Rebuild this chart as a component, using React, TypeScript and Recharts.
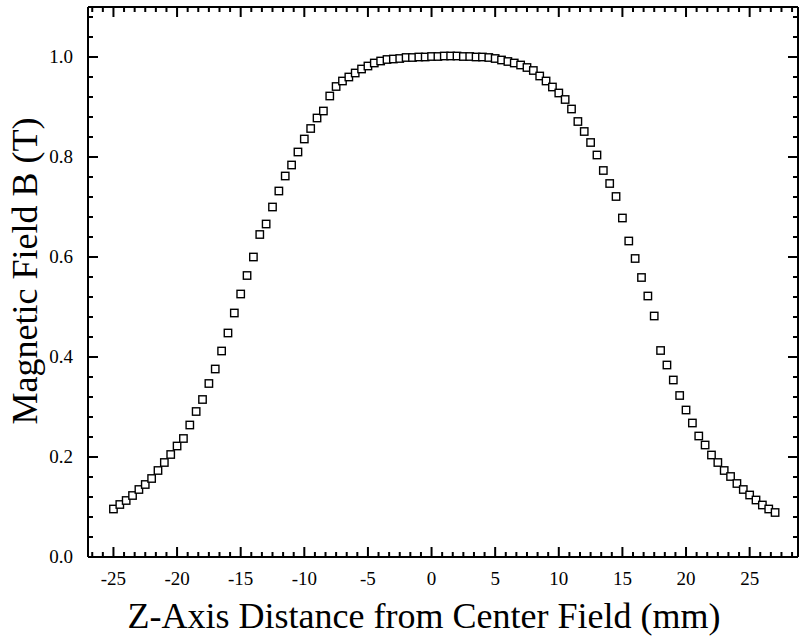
import { ScatterChart, Scatter, XAxis, YAxis } from "recharts";

// axial position (mm) and measured field (T)
const zMm = [
  -25, -24.5, -24, -23.5, -23, -22.5, -22, -21.5, -21, -20.5,
  -20, -19.5, -19, -18.5, -18, -17.5, -17, -16.5, -16, -15.5,
  -15, -14.5, -14, -13.5, -13, -12.5, -12, -11.5, -11, -10.5,
  -10, -9.5, -9, -8.5, -8, -7.5, -7, -6.5, -6, -5.5,
  -5, -4.5, -4, -3.5, -3, -2.5, -2, -1.5, -1, -0.5,
  0, 0.5, 1, 1.5, 2, 2.5, 3, 3.5, 4, 4.5,
  5, 5.5, 6, 6.5, 7, 7.5, 8, 8.5, 9, 9.5,
  10, 10.5, 11, 11.5, 12, 12.5, 13, 13.5, 14, 14.5,
  15, 15.5, 16, 16.5, 17, 17.5, 18, 18.5, 19, 19.5,
  20, 20.5, 21, 21.5, 22, 22.5, 23, 23.5, 24, 24.5,
  25, 25.5, 26, 26.5, 27,
];

const fieldT = [
  0.096, 0.105, 0.113, 0.123, 0.135, 0.145, 0.157, 0.173, 0.189, 0.205,
  0.222, 0.237, 0.264, 0.291, 0.315, 0.347, 0.376, 0.412, 0.448, 0.488,
  0.526, 0.563, 0.6, 0.645, 0.666, 0.7, 0.732, 0.762, 0.784, 0.81,
  0.836, 0.857, 0.878, 0.892, 0.922, 0.941, 0.952, 0.96, 0.968, 0.976,
  0.982, 0.988, 0.992, 0.995, 0.996, 0.997, 0.999, 0.999, 1.0, 1.0,
  1.001, 1.001, 1.002, 1.002, 1.002, 1.001, 1.001, 1.0, 1.0, 0.999,
  0.997, 0.994, 0.991, 0.988, 0.984, 0.979, 0.973, 0.962, 0.952, 0.94,
  0.928, 0.915, 0.896, 0.871, 0.851, 0.829, 0.804, 0.773, 0.747, 0.721,
  0.678, 0.632, 0.597, 0.559, 0.522, 0.482, 0.413, 0.384, 0.354, 0.323,
  0.294, 0.268, 0.242, 0.224, 0.204, 0.189, 0.173, 0.161, 0.147, 0.135,
  0.124, 0.114, 0.104, 0.096, 0.089,
];

const xMajorTicks = [-25, -20, -15, -10, -5, 0, 5, 10, 15, 20, 25];
const yMajorTicks = [0, 0.2, 0.4, 0.6, 0.8, 1.0];

const xTitle = "Z-Axis Distance from Center Field (mm)";
const yTitle = "Magnetic Field B (T)";

const X_DOMAIN: [number, number] = [-27, 28.8];
const Y_DOMAIN: [number, number] = [0, 1.1];
const FONT = "Liberation Serif";

// origin style: 5 minor ticks between x majors, 4 between y majors
function withMinors(majors: number[], step: number, count: number, domain: [number, number]) {
  const out: number[] = [];
  for (let m = majors[0] - step; m <= majors[majors.length - 1] + step; m += step) {
    for (let i = 0; i <= count; i++) {
      const v = +(m + (i * step) / (count + 1)).toFixed(5);
      if (v >= domain[0] && v < domain[1] && !out.some((o) => Math.abs(o - v) < 1e-6)) out.push(v);
    }
  }
  return out;
}

const xTicks = withMinors(xMajorTicks, 5, 5, X_DOMAIN);
const yTicks = withMinors(yMajorTicks, 0.2, 4, Y_DOMAIN);

const isMajor = (majors: number[], v: number) => majors.some((m) => Math.abs(m - v) < 1e-6);

// tick marks placed on the frame through the chart scales, drawn pointing inward
const tickMarks = [
  ...xTicks.map((v) => ({ z: v, b: Y_DOMAIN[0], side: "bottom", len: isMajor(xMajorTicks, v) ? 10 : 5 })),
  ...xTicks.map((v) => ({ z: v, b: Y_DOMAIN[1], side: "top", len: isMajor(xMajorTicks, v) ? 10 : 5 })),
  ...yTicks.map((v) => ({ z: X_DOMAIN[0], b: v, side: "left", len: isMajor(yMajorTicks, v) ? 10 : 5 })),
  ...yTicks.map((v) => ({ z: X_DOMAIN[1], b: v, side: "right", len: isMajor(yMajorTicks, v) ? 10 : 5 })),
];

const tickShape = (props: any) => {
  const { cx, cy, payload } = props;
  const len = payload.len;
  if (payload.side === "bottom") return <rect x={cx - 1} y={cy - len} width={2} height={len} fill="#000" />;
  if (payload.side === "top") return <rect x={cx - 1} y={cy} width={2} height={len} fill="#000" />;
  if (payload.side === "left") return <rect x={cx} y={cy - 1} width={len} height={2} fill="#000" />;
  return <rect x={cx - len} y={cy - 1} width={len} height={2} fill="#000" />;
};

const squareMarker = (props: any) => (
  <rect
    x={props.cx - 3.7}
    y={props.cy - 3.7}
    width={7.4}
    height={7.4}
    fill="#fff"
    stroke="#000"
    strokeWidth={1.4}
  />
);

const noMarker = () => <g />;

const bottomLabel = (props: any) => {
  const v = props.payload.value;
  if (!isMajor(xMajorTicks, v)) return <g />;
  return (
    <text x={props.x} y={props.y + 28} textAnchor="middle" fontSize={19} fontFamily={FONT} fill="#000">
      {String(v)}
    </text>
  );
};

const leftLabel = (props: any) => {
  const v = props.payload.value;
  if (!isMajor(yMajorTicks, v)) return <g />;
  return (
    <text x={props.x - 15} y={props.y + 6} textAnchor="end" fontSize={19} fontFamily={FONT} fill="#000">
      {Number(v).toFixed(1)}
    </text>
  );
};

export default function App() {
  const data = zMm.map((z, i) => ({ z, b: fieldT[i] }));

  return (
    <div style={{ position: "absolute", left: 0, top: 0, background: "#fff" }}>
      <ScatterChart width={799} height={641} margin={{ top: 6, right: 0, bottom: 0, left: 0 }}>
        <XAxis
          dataKey="z"
          type="number"
          domain={X_DOMAIN}
          ticks={xTicks}
          interval={0}
          height={84}
          stroke="#000"
          axisLine={{ strokeWidth: 2 }}
          tickLine={false}
          tickSize={0}
          tickMargin={0}
          tick={bottomLabel}
          label={{
            content: (p: any) => (
              <text x={424} y={p.viewBox.y + 71} textAnchor="middle" fontSize={36} fontFamily={FONT} fill="#000">
                {xTitle}
              </text>
            ),
          }}
        />
        <XAxis
          xAxisId="top"
          dataKey="z"
          orientation="top"
          type="number"
          domain={X_DOMAIN}
          height={1}
          stroke="#000"
          axisLine={{ strokeWidth: 2 }}
          tickLine={false}
          tick={false}
        />
        <YAxis
          dataKey="b"
          type="number"
          domain={Y_DOMAIN}
          ticks={yTicks}
          interval={0}
          width={88}
          stroke="#000"
          axisLine={{ strokeWidth: 2 }}
          tickLine={false}
          tickSize={0}
          tickMargin={0}
          tick={leftLabel}
          label={{
            content: () => (
              <text
                x={0}
                y={0}
                transform="translate(37, 271) rotate(-90)"
                textAnchor="middle"
                fontSize={36}
                fontFamily={FONT}
                fill="#000"
              >
                {yTitle}
              </text>
            ),
          }}
        />
        <YAxis
          yAxisId="right"
          dataKey="b"
          orientation="right"
          type="number"
          domain={Y_DOMAIN}
          width={1}
          stroke="#000"
          axisLine={{ strokeWidth: 2 }}
          tickLine={false}
          tick={false}
        />
        <Scatter data={tickMarks} shape={tickShape} isAnimationActive={false} />
        <Scatter data={data} shape={squareMarker} isAnimationActive={false} />
        <Scatter data={data} xAxisId="top" yAxisId="right" shape={noMarker} isAnimationActive={false} />
      </ScatterChart>
    </div>
  );
}
